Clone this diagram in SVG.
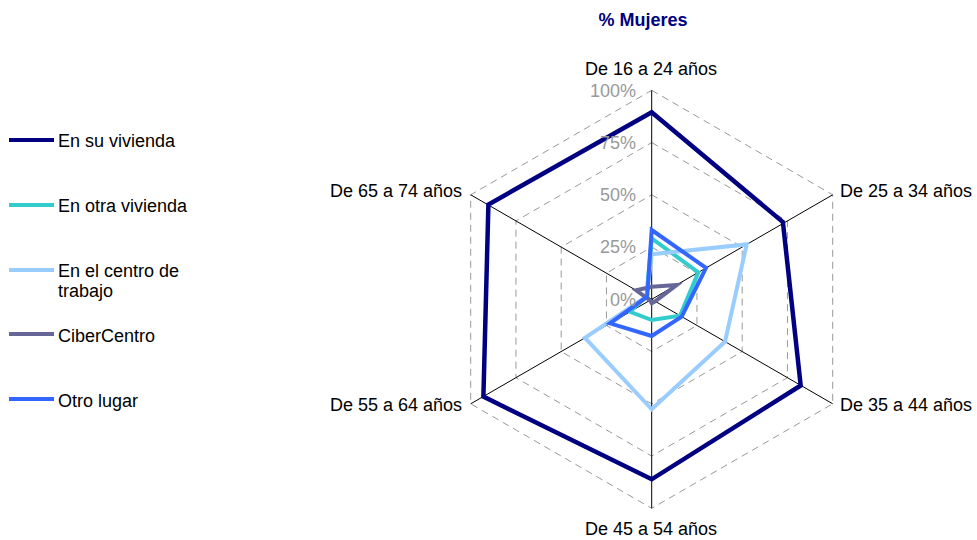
<svg xmlns="http://www.w3.org/2000/svg" width="977" height="540" viewBox="0 0 977 540">
<style>
text{font-family:"Liberation Sans",Arial,sans-serif;font-size:18px;fill:#000}
.title{font-weight:bold;fill:#000080}
.val{fill:#999999}
.grid{fill:none;stroke:#999999;stroke-width:1;stroke-dasharray:7 5}
.axis{stroke:#000;stroke-width:1}
.s{fill:none;stroke-width:4;stroke-linejoin:miter}
.s1{stroke:#000080;stroke-width:4.5}
.s2{stroke:#33CCCC}
.s3{stroke:#99CCFF}
.s4{stroke:#666699}
.s5{stroke:#3366FF}
.leg{stroke-width:4}
</style>
<rect width="977" height="540" fill="#fff"/>
<g id="title"><text class="title" x="643" y="26" text-anchor="middle">% Mujeres</text></g>
<g id="legend">
<g id="leg1"><line class="leg" x1="9" y1="140" x2="54" y2="140" stroke="#000080"/><text x="58" y="147">En su vivienda</text></g>
<g id="leg2"><line class="leg" x1="9" y1="205" x2="54" y2="205" stroke="#33CCCC"/><text x="58" y="212">En otra vivienda</text></g>
<g id="leg3"><line class="leg" x1="9" y1="270" x2="54" y2="270" stroke="#99CCFF"/><text x="58" y="277">En el centro de</text><text x="58" y="297">trabajo</text></g>
<g id="leg4"><line class="leg" x1="9" y1="334" x2="54" y2="334" stroke="#666699"/><text x="58" y="342">CiberCentro</text></g>
<g id="leg5"><line class="leg" x1="9" y1="399" x2="54" y2="399" stroke="#3366FF"/><text x="58" y="407">Otro lugar</text></g>
</g>
<g id="radar" transform="translate(651.7 299.3)">
<g id="grid">
<polygon class="grid" points="0,-209 181,-104.5 181,104.5 0,209 -181,104.5 -181,-104.5"/>
<polygon class="grid" points="0,-156.75 135.75,-78.38 135.75,78.38 0,156.75 -135.75,78.38 -135.75,-78.38"/>
<polygon class="grid" points="0,-104.5 90.5,-52.25 90.5,52.25 0,104.5 -90.5,52.25 -90.5,-52.25"/>
<polygon class="grid" points="0,-52.25 45.25,-26.13 45.25,26.13 0,52.25 -45.25,26.13 -45.25,-26.13"/>
</g>
<g id="axes">
<line class="axis" x1="0" y1="0" x2="0" y2="-209"/>
<line class="axis" x1="0" y1="0" x2="181" y2="-104.5"/>
<line class="axis" x1="0" y1="0" x2="181" y2="104.5"/>
<line class="axis" x1="0" y1="0" x2="0" y2="209"/>
<line class="axis" x1="0" y1="0" x2="-181" y2="104.5"/>
<line class="axis" x1="0" y1="0" x2="-181" y2="-104.5"/>
</g>
<g id="series">
<polygon class="s s1" points="0,-187 131.2,-77.2 149,86.2 0,180 -168.3,97.3 -163.3,-94.8"/>
<polygon class="s s2" points="0,-61 46.6,-26.9 28.3,16.4 0,20.7 -21.7,12.5 -5.2,-3"/>
<polygon class="s s3" points="0,-45 95,-54.9 73.3,42.3 0,110 -66.7,38.5 -5,-2.9"/>
<polygon class="s s4" points="0,-12.5 25,-14.4 3.5,2 0,4 -1.7,1 -15.5,-9"/>
<polygon class="s s5" points="0,-69.3 54.3,-31.4 30,17.3 0,36.7 -41.7,24 -4.5,-2.6"/>
</g>
</g>
<g id="valueLabels">
<text class="val" x="636" y="96.5" text-anchor="end">100%</text>
<text class="val" x="636" y="148.5" text-anchor="end">75%</text>
<text class="val" x="636" y="201" text-anchor="end">50%</text>
<text class="val" x="636" y="253" text-anchor="end">25%</text>
<text class="val" x="636" y="305.5" text-anchor="end">0%</text>
</g>
<g id="categoryLabels">
<text x="651" y="75" text-anchor="middle">De 16 a 24 años</text>
<text x="840" y="197" text-anchor="start">De 25 a 34 años</text>
<text x="840" y="411" text-anchor="start">De 35 a 44 años</text>
<text x="651" y="535" text-anchor="middle">De 45 a 54 años</text>
<text x="462" y="411" text-anchor="end">De 55 a 64 años</text>
<text x="462" y="197" text-anchor="end">De 65 a 74 años</text>
</g>
</svg>
